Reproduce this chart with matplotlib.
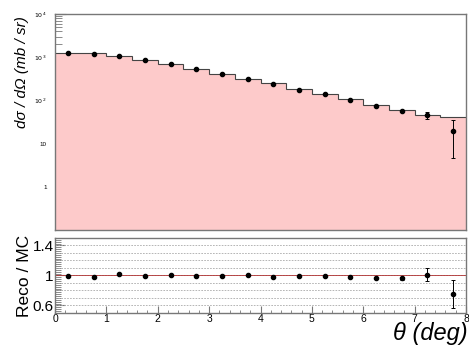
import numpy as np
import matplotlib.pyplot as plt
from matplotlib.ticker import MultipleLocator, FixedLocator, NullFormatter, LogLocator

plt.rcParams['font.family'] = ['Liberation Sans', 'DejaVu Sans']
plt.rcParams['mathtext.fontset'] = 'dejavusans'

# theta binning (deg)
edges = np.arange(0, 8.5, 0.5)
centers = 0.5 * (edges[:-1] + edges[1:])

# MC cross section per bin (mb/sr)
mc_xsec = [1230, 1225, 1083, 861, 685, 533, 402, 313, 249, 181, 141, 106, 78, 60, 46, 41]
# reconstructed cross section and errors
reco_xsec = [1230, 1186, 1083, 875, 697, 525, 408, 318, 236, 174, 138, 102, 74, 56, 45, 19.6]
reco_err = [0, 0, 0, 0, 0, 0, 0, 0, 0, 0, 0, 0, 0, 0, 8, 15]
# Reco / MC ratio and errors
ratio = [0.996, 0.983, 1.026, 0.99, 1.004, 0.99, 0.996, 1.01, 0.974, 0.996, 0.996, 0.983, 0.97, 0.96, 1.013, 0.75]
ratio_err = [0, 0, 0, 0, 0, 0, 0, 0, 0, 0, 0, 0, 0, 0.02, 0.09, 0.19]

fig = plt.figure(figsize=(4.69, 3.52), dpi=100)
ax = fig.add_axes([0.1173, 0.3466, 0.8763, 0.6134])
axr = fig.add_axes([0.1173, 0.1108, 0.8763, 0.2131])

frame = '#777777'

# --- upper panel: cross section ---
ax.set_axisbelow(True)
ax.stairs(mc_xsec, edges, baseline=1e-3, fill=True, color='#fdcaca', zorder=1)
ax.stairs(mc_xsec, edges, baseline=None, color='#444444', lw=0.8, zorder=2)
ax.errorbar(centers, reco_xsec, yerr=reco_err, fmt='o', color='black', ms=3.0,
            elinewidth=0.7, capsize=1.5, capthick=0.7, zorder=3)
ax.set_yscale('log')
ax.set_xlim(0, 8)
ax.set_ylim(0.1, 1e4)
ax.yaxis.set_major_locator(FixedLocator([1, 10, 100, 1000, 10000]))
ax.set_yticklabels(['1', '10', r'$10^2$', r'$10^3$', r'$10^4$'])
ax.yaxis.set_minor_locator(LogLocator(base=10, subs=np.arange(2, 10)))
ax.yaxis.set_minor_formatter(NullFormatter())
ax.tick_params(axis='y', which='both', direction='in', labelsize=4.5, color=frame, pad=6)
ax.tick_params(axis='y', which='major', length=8)
ax.tick_params(axis='y', which='minor', length=5)
ax.tick_params(axis='x', which='both', bottom=False, labelbottom=False)
ax.set_ylabel('dσ / dΩ (mb / sr)', fontsize=11, style='italic')
ax.yaxis.set_label_coords(-0.064, 0.73)
for s in ax.spines.values():
    s.set_color(frame)
    s.set_linewidth(1.0)

# --- lower panel: ratio ---
axr.set_axisbelow(True)
for g in np.arange(0.6, 1.45, 0.1):
    axr.axhline(g, color='#aaaaaa', lw=0.6, ls=(0, (2, 1.5)), zorder=0.8)
axr.axhline(1.0, color='#b03030', lw=0.6, zorder=1)
axr.errorbar(centers, ratio, yerr=ratio_err, fmt='o', color='black', ms=3.0,
             elinewidth=0.7, capsize=1.5, capthick=0.7, zorder=3)
axr.set_xlim(0, 8)
axr.set_ylim(0.5, 1.5)
axr.yaxis.set_major_locator(FixedLocator([0.6, 1.0, 1.4]))
axr.set_yticklabels(['0.6', '1', '1.4'])
axr.yaxis.set_minor_locator(MultipleLocator(0.025))
axr.xaxis.set_major_locator(MultipleLocator(1))
axr.xaxis.set_minor_locator(MultipleLocator(0.2))
axr.tick_params(axis='y', which='major', direction='in', length=7, labelsize=11, color=frame, pad=1)
axr.tick_params(axis='y', which='minor', direction='in', length=4, color=frame)
axr.tick_params(axis='x', which='major', direction='in', length=5, labelsize=7.5, color=frame, pad=0.5)
axr.tick_params(axis='x', which='minor', direction='in', length=2.5, color=frame)
axr.set_ylabel('Reco / MC', fontsize=12.5, labelpad=0)
axr.yaxis.set_label_coords(-0.055, 0.5)
for s in axr.spines.values():
    s.set_color(frame)
    s.set_linewidth(1.0)

fig.text(0.998, 0.033, 'θ (deg)', fontsize=17, style='italic', ha='right', va='baseline')

fig.savefig('out.png', dpi=100)
